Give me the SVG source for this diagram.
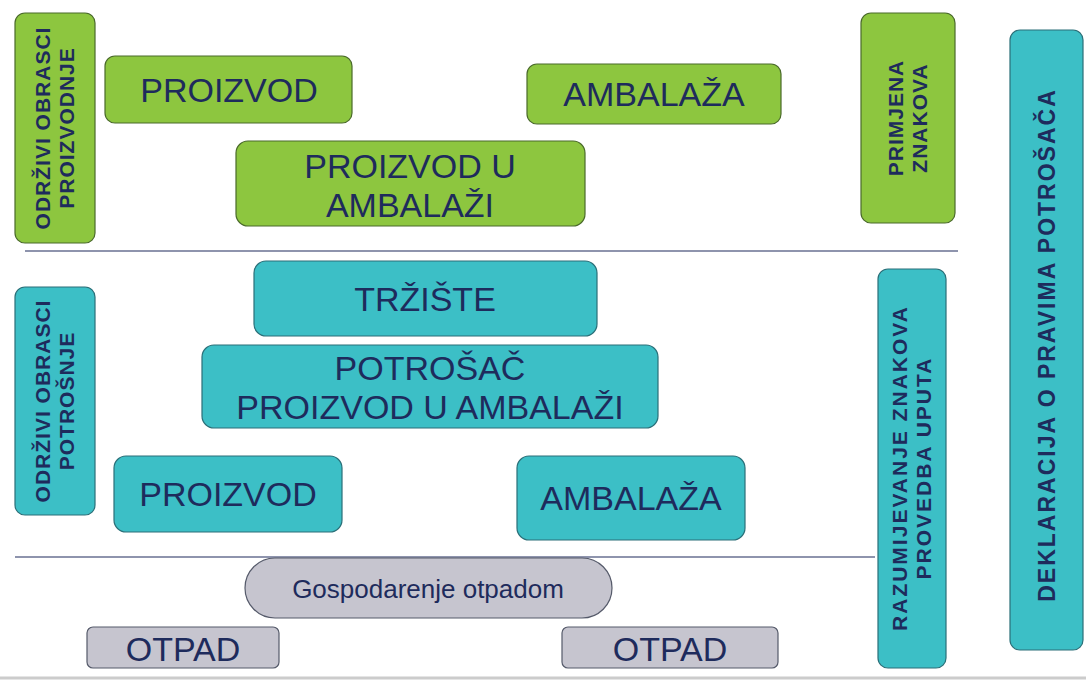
<svg xmlns="http://www.w3.org/2000/svg" width="1086" height="681" viewBox="0 0 1086 681">
<style>
.g{fill:#8DC63F;stroke:#4a6a2a;stroke-width:1.2}
.t{fill:#3CBFC6;stroke:#2a6f78;stroke-width:1.2}
.y{fill:#C6C5CF;stroke:#555a6a;stroke-width:1.2}
text{font-family:"Liberation Sans",Arial,sans-serif;fill:#1E2B5C;text-anchor:middle}
.b{font-size:34px}
.v{font-size:21px;font-weight:bold;letter-spacing:1px}
.ln{stroke:#1E2B5C;stroke-width:1.2}
</style>
<rect width="1086" height="681" fill="#fff"/>
<g id="connectors">
<line class="ln" x1="25" y1="251" x2="958" y2="251"/>
<line class="ln" x1="15" y1="557" x2="875" y2="557"/>
<line x1="0" y1="678" x2="1086" y2="678" stroke="#ccc" stroke-width="3"/>
</g>
<g id="odrzivi-proizvodnje"><rect class="g" x="15" y="13" width="80" height="230" rx="10"/>
<text class="v" transform="translate(55,128) rotate(-90)"><tspan x="0" y="-5">ODRŽIVI OBRASCI</tspan><tspan x="0" y="19">PROIZVODNJE</tspan></text></g>
<g id="proizvod1"><rect class="g" x="105" y="56" width="247" height="67" rx="10"/><text class="b" x="229" y="102">PROIZVOD</text></g>
<g id="ambalaza1"><rect class="g" x="527" y="64" width="254" height="60" rx="10"/><text class="b" x="654" y="106">AMBALAŽA</text></g>
<g id="proizvod-u-ambalazi"><rect class="g" x="236" y="141" width="349" height="85" rx="12"/><text class="b" x="410" y="178">PROIZVOD U</text><text class="b" x="410" y="217">AMBALAŽI</text></g>
<g id="primjena"><rect class="g" x="861" y="13" width="94" height="210" rx="10"/>
<text class="v" transform="translate(908,118) rotate(-90)"><tspan x="0" y="-5">PRIMJENA</tspan><tspan x="0" y="19">ZNAKOVA</tspan></text></g>
<g id="deklaracija"><rect class="t" x="1010" y="30" width="73" height="620" rx="10"/>
<text class="v" transform="translate(1047,345) rotate(-90)" y="8" style="font-size:23px;letter-spacing:2px">DEKLARACIJA O PRAVIMA  POTROŠAČA</text></g>
<g id="trziste"><rect class="t" x="254" y="261" width="343" height="75" rx="12"/><text class="b" x="425" y="311">TRŽIŠTE</text></g>
<g id="potrosac"><rect class="t" x="202" y="345" width="456" height="83" rx="12"/><text class="b" x="430" y="380">POTROŠAČ</text><text class="b" x="430" y="419">PROIZVOD U AMBALAŽI</text></g>
<g id="odrzivi-potrosnje"><rect class="t" x="15" y="287" width="80" height="228" rx="10"/>
<text class="v" transform="translate(55,401) rotate(-90)"><tspan x="0" y="-5">ODRŽIVI OBRASCI</tspan><tspan x="0" y="19">POTROŠNJE</tspan></text></g>
<g id="proizvod2"><rect class="t" x="114" y="456" width="228" height="76" rx="12"/><text class="b" x="228" y="506">PROIZVOD</text></g>
<g id="ambalaza2"><rect class="t" x="517" y="456" width="228" height="84" rx="12"/><text class="b" x="631" y="510">AMBALAŽA</text></g>
<g id="razumijevanje"><rect class="t" x="878" y="269" width="68" height="399" rx="10"/>
<text class="v" transform="translate(912,468) rotate(-90)" style="letter-spacing:2px"><tspan x="0" y="-5">RAZUMIJEVANJE ZNAKOVA</tspan><tspan x="0" y="19">PROVEDBA UPUTA</tspan></text></g>
<g id="gospodarenje"><rect class="y" x="245" y="558" width="367" height="60" rx="30"/><text x="428" y="598" font-size="26">Gospodarenje otpadom</text></g>
<g id="otpad1"><rect class="y" x="87" y="627" width="192" height="41" rx="6"/><text class="b" x="183" y="661">OTPAD</text></g>
<g id="otpad2"><rect class="y" x="562" y="627" width="216" height="41" rx="6"/><text class="b" x="670" y="661">OTPAD</text></g>
</svg>
